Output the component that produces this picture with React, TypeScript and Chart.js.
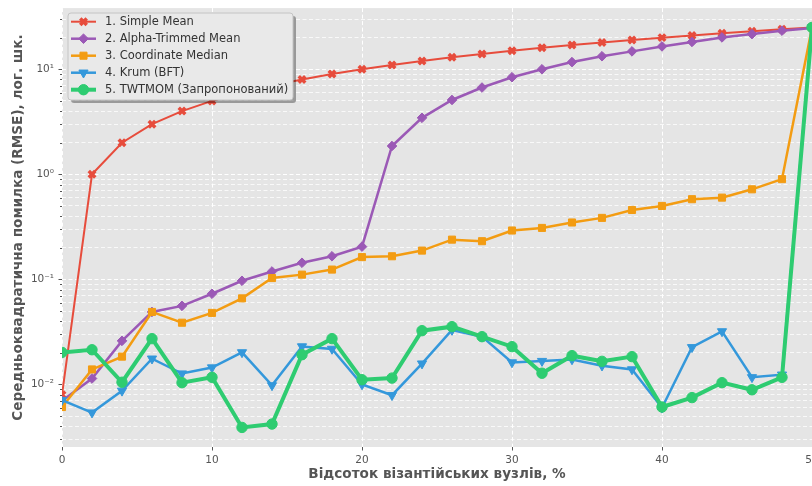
import React, { useEffect, useRef } from 'react';
import { Chart, registerables } from 'chart.js';

Chart.register(...registerables);

// ---------- data ----------
const xValues = [0, 2, 4, 6, 8, 10, 12, 14, 16, 18, 20, 22, 24, 26, 28, 30, 32, 34, 36, 38, 40, 42, 44, 46, 48, 50];

const simpleMean = [0.008, 1, 2, 3, 4, 5, 6, 7, 8, 9, 10, 11, 12, 13, 14, 15, 16, 17, 18, 19, 20, 21, 22, 23, 24, 25];
const alphaTrimmedMean = [0.007, 0.0114, 0.026, 0.049, 0.056, 0.073, 0.097, 0.119, 0.144, 0.166, 0.205, 1.86, 3.45, 5.1, 6.7, 8.4, 10.0, 11.7, 13.3, 14.8, 16.5, 18.2, 20.1, 21.6, 23.3, 24.7];
const coordinateMedian = [0.0061, 0.0139, 0.0184, 0.049, 0.0387, 0.048, 0.066, 0.103, 0.111, 0.124, 0.163, 0.166, 0.188, 0.239, 0.231, 0.292, 0.309, 0.348, 0.385, 0.458, 0.5, 0.58, 0.6, 0.72, 0.9, 25];
const krum = [0.0071, 0.0054, 0.0087, 0.0176, 0.0127, 0.0145, 0.0202, 0.0098, 0.023, 0.0218, 0.0100, 0.0079, 0.0158, 0.033, 0.0285, 0.0162, 0.0167, 0.0173, 0.0151, 0.0139, 0.0060, 0.0226, 0.032, 0.0117, 0.0124, 25];
const twtmom = [0.0202, 0.0214, 0.0105, 0.0273, 0.0104, 0.0117, 0.0039, 0.0042, 0.0192, 0.0273, 0.0111, 0.0115, 0.0325, 0.0355, 0.0285, 0.0229, 0.0128, 0.0188, 0.0166, 0.0184, 0.0061, 0.0075, 0.0104, 0.0089, 0.0117, 25];

const seriesLabels = [
  '1. Simple Mean',
  '2. Alpha-Trimmed Mean',
  '3. Coordinate Median',
  '4. Krum (BFT)',
  '5. TWTMOM (Запропонований)',
];

const xTickValues = [0, 10, 20, 30, 40, 50];
const yMajorTickValues = [0.01, 0.1, 1, 10];
const yMajorTickLabels = ['10⁻²', '10⁻¹', '10⁰', '10¹'];

const xAxisTitle = 'Відсоток візантійських вузлів, %';
const yAxisTitle = 'Середньоквадратична помилка (RMSE), лог. шк.';

const xMin = 0;
const xMax = 50;
const yMin = 0.00254;
const yMax = 38.2;

// ---------- styles ----------
type Marker = 'crossRot' | 'rectRot' | 'rect' | 'triangleDown' | 'circle';
const styles: { color: string; lw: number; marker: Marker; r: number; pbw: number }[] = [
  { color: '#e74c3c', lw: 2, marker: 'crossRot', r: 4.6, pbw: 3.5 },
  { color: '#9b59b6', lw: 2.5, marker: 'rectRot', r: 4.8, pbw: 1 },
  { color: '#f39c12', lw: 2.5, marker: 'rect', r: 5, pbw: 1 },
  { color: '#3498db', lw: 2.5, marker: 'triangleDown', r: 5.3, pbw: 1 },
  { color: '#2ecc71', lw: 4, marker: 'circle', r: 5.2, pbw: 1 },
];

const seriesData = [simpleMean, alphaTrimmedMean, coordinateMedian, krum, twtmom];

function buildYTicks() {
  const out: { value: number; major: boolean }[] = [];
  for (let e = -3; e <= 1; e++) {
    for (let k = 1; k <= 9; k++) {
      const v = parseFloat((k * Math.pow(10, e)).toPrecision(6));
      if (v >= yMin && v <= yMax) out.push({ value: v, major: k === 1 });
    }
  }
  return out;
}

function drawMarker(ctx: CanvasRenderingContext2D, kind: Marker, x: number, y: number, r: number, color: string, pbw: number) {
  ctx.save();
  ctx.fillStyle = color;
  ctx.strokeStyle = color;
  ctx.lineWidth = pbw;
  ctx.beginPath();
  if (kind === 'circle') {
    ctx.arc(x, y, r, 0, Math.PI * 2);
    ctx.fill();
    ctx.stroke();
  } else if (kind === 'rect') {
    const s = Math.SQRT1_2 * r;
    ctx.rect(x - s, y - s, 2 * s, 2 * s);
    ctx.fill();
    ctx.stroke();
  } else if (kind === 'rectRot') {
    ctx.moveTo(x, y - r);
    ctx.lineTo(x + r, y);
    ctx.lineTo(x, y + r);
    ctx.lineTo(x - r, y);
    ctx.closePath();
    ctx.fill();
    ctx.stroke();
  } else if (kind === 'triangleDown') {
    const w = r * Math.sin(Math.PI / 3);
    ctx.moveTo(x, y + r);
    ctx.lineTo(x + w, y - r / 2);
    ctx.lineTo(x - w, y - r / 2);
    ctx.closePath();
    ctx.fill();
    ctx.stroke();
  } else {
    const d = r * Math.SQRT1_2;
    ctx.moveTo(x - d, y - d);
    ctx.lineTo(x + d, y + d);
    ctx.moveTo(x + d, y - d);
    ctx.lineTo(x - d, y + d);
    ctx.stroke();
  }
  ctx.restore();
}

function roundRectPath(ctx: CanvasRenderingContext2D, x: number, y: number, w: number, h: number, r: number) {
  ctx.beginPath();
  ctx.moveTo(x + r, y);
  ctx.lineTo(x + w - r, y);
  ctx.quadraticCurveTo(x + w, y, x + w, y + r);
  ctx.lineTo(x + w, y + h - r);
  ctx.quadraticCurveTo(x + w, y + h, x + w - r, y + h);
  ctx.lineTo(x + r, y + h);
  ctx.quadraticCurveTo(x, y + h, x, y + h - r);
  ctx.lineTo(x, y + r);
  ctx.quadraticCurveTo(x, y, x + r, y);
  ctx.closePath();
}

const bgPlugin = {
  id: 'plotBg',
  beforeDraw(chart: any) {
    const { ctx, chartArea } = chart;
    ctx.save();
    ctx.fillStyle = '#ffffff';
    ctx.fillRect(0, 0, chart.width, chart.height);
    ctx.fillStyle = '#e5e5e5';
    ctx.fillRect(chartArea.left, chartArea.top, chartArea.right - chartArea.left, chartArea.bottom - chartArea.top);
    ctx.restore();
  },
};

const tickMarksPlugin = {
  id: 'tickMarks',
  afterDraw(chart: any) {
    const { ctx, chartArea, scales } = chart;
    ctx.save();
    ctx.strokeStyle = '#555555';
    ctx.lineWidth = 1;
    for (const t of scales.y.ticks) {
      const py = Math.round(scales.y.getPixelForValue(t.value)) + 0.5;
      const len = t.major ? 3.5 : 2;
      ctx.beginPath();
      ctx.moveTo(chartArea.left - len, py);
      ctx.lineTo(chartArea.left, py);
      ctx.stroke();
    }
    for (const t of scales.x.ticks) {
      const px = Math.round(scales.x.getPixelForValue(t.value)) + 0.5;
      ctx.beginPath();
      ctx.moveTo(px, chartArea.bottom);
      ctx.lineTo(px, chartArea.bottom + 3.5);
      ctx.stroke();
    }
    ctx.restore();
  },
};

const legendPlugin = {
  id: 'customLegend',
  afterDraw(chart: any) {
    const { ctx } = chart;
    const bx = 68, by = 13, bw = 225, bh = 87;
    ctx.save();
    roundRectPath(ctx, bx + 3, by + 3, bw, bh, 3);
    ctx.fillStyle = 'rgba(0,0,0,0.33)';
    ctx.fill();
    roundRectPath(ctx, bx, by, bw, bh, 3);
    ctx.fillStyle = '#e9e9e9';
    ctx.fill();
    ctx.strokeStyle = '#c4c4c4';
    ctx.lineWidth = 1;
    ctx.stroke();
    ctx.font = '11.5px "DejaVu Sans"';
    ctx.textBaseline = 'middle';
    ctx.textAlign = 'left';
    seriesLabels.forEach((label, i) => {
      const s = styles[i];
      const cy = 21.7 + i * 17;
      ctx.strokeStyle = s.color;
      ctx.lineWidth = s.lw;
      ctx.beginPath();
      ctx.moveTo(71, cy);
      ctx.lineTo(96, cy);
      ctx.stroke();
      drawMarker(ctx, s.marker, 83.5, cy, s.r, s.color, s.pbw);
      ctx.fillStyle = '#333333';
      ctx.fillText(label, 105, cy + 0.5);
    });
    ctx.restore();
  },
};

export default function App() {
  const canvasRef = useRef<HTMLCanvasElement | null>(null);

  useEffect(() => {
    const canvas = canvasRef.current;
    if (!canvas) return;
    const yTicks = buildYTicks();

    const datasets = seriesData.map((vals, i) => {
      const s = styles[i];
      return {
        label: seriesLabels[i],
        data: xValues.map((x, j) => ({ x, y: vals[j] })),
        borderColor: s.color,
        backgroundColor: s.color,
        borderWidth: s.lw,
        pointStyle: s.marker === 'triangleDown' ? 'triangle' : s.marker,
        rotation: s.marker === 'triangleDown' ? 180 : 0,
        pointRadius: s.r,
        pointBorderWidth: s.pbw,
        pointBackgroundColor: s.color,
        pointBorderColor: s.color,
        tension: 0,
        clip: 0,
        order: 4 - i,
      };
    });

    const chart = new Chart(canvas, {
      type: 'line',
      data: { datasets },
      options: {
        animation: false,
        responsive: false,
        maintainAspectRatio: false,
        devicePixelRatio: 1,
        layout: { padding: { left: 0, top: 7, right: 28, bottom: 0 } },
        plugins: {
          legend: { display: false },
          tooltip: { enabled: false },
          title: { display: false },
        },
        scales: {
          x: {
            type: 'linear',
            min: xMin,
            max: xMax,
            afterBuildTicks: (scale: any) => {
              scale.ticks = xTickValues.map((v) => ({ value: v }));
            },
            afterFit: (scale: any) => {
              scale.height = 39;
              scale.paddingLeft = 0;
              scale.paddingRight = 0;
            },
            grid: { color: '#ffffff', lineWidth: 1, drawTicks: false },
            border: { display: false, dash: [4, 2.5] },
            ticks: {
              color: '#555555',
              font: { family: 'DejaVu Sans', size: 10.5 },
              padding: 6.5,
              maxRotation: 0,
              autoSkip: false,
              callback: (v: any) => String(v),
            },
            title: {
              display: true,
              text: xAxisTitle,
              color: '#555555',
              font: { family: 'DejaVu Sans', size: 13.6, weight: 'bold' },
              padding: { top: 0, bottom: 3 },
            },
          },
          y: {
            type: 'logarithmic',
            min: yMin,
            max: yMax,
            afterBuildTicks: (scale: any) => {
              scale.ticks = yTicks.map((t) => ({ value: t.value, major: t.major }));
            },
            afterFit: (scale: any) => {
              scale.width = 62;
              scale.paddingTop = 0;
              scale.paddingBottom = 0;
            },
            grid: {
              color: (ctx: any) => (ctx.tick && ctx.tick.major ? 'rgba(255,255,255,1)' : 'rgba(255,255,255,0.75)'),
              lineWidth: 1,
              drawTicks: false,
            },
            border: { display: false, dash: [4, 2.5] },
            ticks: {
              color: '#555555',
              font: { family: 'DejaVu Sans', size: 10.5 },
              padding: 8,
              autoSkip: false,
              callback: (value: any) => {
                const v = Number(value);
                const idx = yMajorTickValues.findIndex((m) => Math.abs(Math.log10(m) - Math.log10(v)) < 1e-6);
                return idx >= 0 ? yMajorTickLabels[idx] : '';
              },
            },
            title: {
              display: true,
              text: yAxisTitle,
              color: '#555555',
              font: { family: 'DejaVu Sans', size: 13.6, weight: 'bold' },
              padding: { top: 10.5, bottom: 0 },
            },
          },
        },
      } as any,
      plugins: [bgPlugin, tickMarksPlugin, legendPlugin],
    });

    return () => {
      chart.destroy();
    };
  }, []);

  return (
    <div style={{ position: 'absolute', left: 0, top: 0, width: 812, height: 486, overflow: 'hidden', background: '#ffffff' }}>
      <div style={{ position: 'relative', width: 840, height: 486 }}>
        <canvas ref={canvasRef} width={840} height={486} style={{ width: 840, height: 486, display: 'block' }} />
      </div>
    </div>
  );
}
